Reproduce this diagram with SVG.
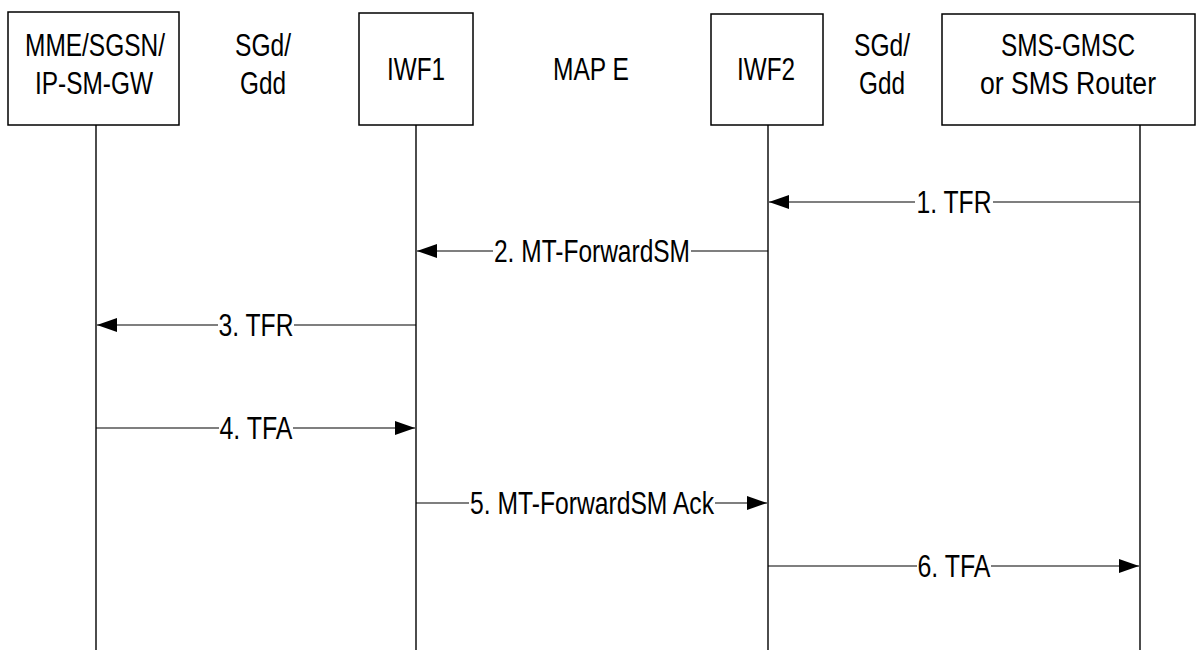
<svg xmlns="http://www.w3.org/2000/svg" width="1197" height="650" viewBox="0 0 1197 650">
<style>
.box{fill:#fff;stroke:#000;stroke-width:1.5}
.life{stroke:#000;stroke-width:1.4;fill:none}
.msg{stroke:#000;stroke-width:1.2;fill:none}
text{font-family:"Liberation Sans",Arial,sans-serif;font-size:31px;fill:#000;text-anchor:middle}
</style>
<defs>
<marker id="ah" markerUnits="userSpaceOnUse" markerWidth="20" markerHeight="14" refX="20" refY="7" orient="auto">
<path d="M0,0 L20,7 L0,14 z" fill="#000"/>
</marker>
</defs>
<rect width="1197" height="650" fill="#fff"/>
<g id="lifelines">
<line class="life" x1="96" y1="125" x2="96" y2="650"/>
<line class="life" x1="416" y1="125" x2="416" y2="650"/>
<line class="life" x1="768" y1="125" x2="768" y2="650"/>
<line class="life" x1="1140" y1="125" x2="1140" y2="650"/>
</g>
<g id="node-mme">
<rect class="box" x="8" y="12" width="171" height="113"/>
<text x="95" y="56" textLength="140" lengthAdjust="spacingAndGlyphs">MME/SGSN/</text>
<text x="94" y="94" textLength="118" lengthAdjust="spacingAndGlyphs">IP-SM-GW</text>
</g>
<g id="label-sgd1">
<text x="263" y="56" textLength="56" lengthAdjust="spacingAndGlyphs">SGd/</text>
<text x="263" y="94" textLength="46" lengthAdjust="spacingAndGlyphs">Gdd</text>
</g>
<g id="node-iwf1">
<rect class="box" x="359" y="13" width="114" height="112"/>
<text x="416" y="80" textLength="58" lengthAdjust="spacingAndGlyphs">IWF1</text>
</g>
<g id="label-mape">
<text x="591" y="80" textLength="76" lengthAdjust="spacingAndGlyphs">MAP E</text>
</g>
<g id="node-iwf2">
<rect class="box" x="711" y="14" width="112" height="111"/>
<text x="766" y="80" textLength="58" lengthAdjust="spacingAndGlyphs">IWF2</text>
</g>
<g id="label-sgd2">
<text x="882" y="56" textLength="56" lengthAdjust="spacingAndGlyphs">SGd/</text>
<text x="882" y="94" textLength="46" lengthAdjust="spacingAndGlyphs">Gdd</text>
</g>
<g id="node-smsgmsc">
<rect class="box" x="942" y="14" width="253" height="111"/>
<text x="1068" y="56" textLength="134" lengthAdjust="spacingAndGlyphs">SMS-GMSC</text>
<text x="1068" y="94" textLength="176" lengthAdjust="spacingAndGlyphs">or SMS Router</text>
</g>
<g id="connectors">
<line class="msg" x1="1140" y1="202" x2="993" y2="202"/>
<line class="msg" x1="915" y1="202" x2="769" y2="202" marker-end="url(#ah)"/>
<line class="msg" x1="768" y1="251" x2="691" y2="251"/>
<line class="msg" x1="493" y1="251" x2="417" y2="251" marker-end="url(#ah)"/>
<line class="msg" x1="416" y1="325" x2="294" y2="325"/>
<line class="msg" x1="218" y1="325" x2="97" y2="325" marker-end="url(#ah)"/>
<line class="msg" x1="96" y1="428" x2="219" y2="428"/>
<line class="msg" x1="293" y1="428" x2="415" y2="428" marker-end="url(#ah)"/>
<line class="msg" x1="416" y1="503" x2="469" y2="503"/>
<line class="msg" x1="715" y1="503" x2="767" y2="503" marker-end="url(#ah)"/>
<line class="msg" x1="768" y1="566" x2="917" y2="566"/>
<line class="msg" x1="991" y1="566" x2="1139" y2="566" marker-end="url(#ah)"/>
</g>
<g id="labels">
<text x="954" y="213" textLength="75" lengthAdjust="spacingAndGlyphs">1. TFR</text>
<text x="592" y="262" textLength="196" lengthAdjust="spacingAndGlyphs">2. MT-ForwardSM</text>
<text x="256" y="336" textLength="75" lengthAdjust="spacingAndGlyphs">3. TFR</text>
<text x="256" y="439" textLength="73" lengthAdjust="spacingAndGlyphs">4. TFA</text>
<text x="592" y="514" textLength="244" lengthAdjust="spacingAndGlyphs">5. MT-ForwardSM Ack</text>
<text x="954" y="577" textLength="73" lengthAdjust="spacingAndGlyphs">6. TFA</text>
</g>
</svg>
